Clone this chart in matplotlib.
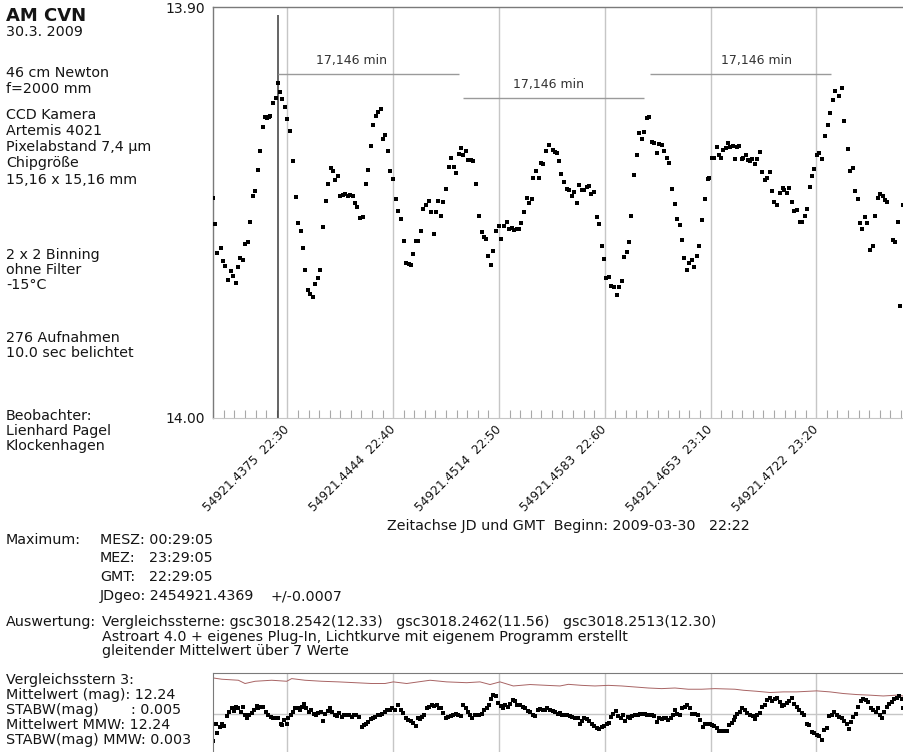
import matplotlib
matplotlib.use("Agg")
import matplotlib.pyplot as plt
from matplotlib.ticker import MultipleLocator

plt.rcParams['font.family'] = ['DejaVu Sans']

# ---------------- data ----------------
# time axis: minutes after 22:00 GMT (2009-03-30)
T_MAIN = [23.01, 23.17, 23.39, 23.70, 23.89, 24.14, 24.40, 24.65, 24.87, 25.12,
          25.31, 25.53, 25.78, 26.03, 26.25, 26.51, 26.76, 26.98, 27.26, 27.45,
          27.67, 27.89, 28.11, 28.27, 28.40, 28.62, 28.90, 29.09, 29.34, 29.53,
          29.78, 30.00, 30.26, 30.51, 30.79, 31.01, 31.26, 31.52, 31.71, 31.93,
          32.18, 32.43, 32.65, 32.90, 33.12, 33.38, 33.63, 33.88, 34.10, 34.32,
          34.51, 34.76, 34.98, 35.23, 35.45, 35.71, 35.93, 36.18, 36.40, 36.62,
          36.87, 37.12, 37.41, 37.63, 37.88, 38.13, 38.35, 38.57, 38.83, 39.01,
          39.27, 39.52, 39.74, 39.99, 40.24, 40.46, 40.72, 41.00, 41.25, 41.50,
          41.69, 41.91, 42.13, 42.39, 42.64, 42.86, 43.11, 43.36, 43.61, 43.84,
          44.06, 44.24, 44.50, 44.75, 45.00, 45.25, 45.50, 45.76, 45.98, 46.20,
          46.39, 46.64, 46.86, 47.11, 47.33, 47.58, 47.84, 48.09, 48.37, 48.56,
          48.78, 49.00, 49.25, 49.47, 49.73, 49.98, 50.23, 50.48, 50.73, 50.99,
          51.24, 51.46, 51.68, 51.90, 52.12, 52.37, 52.63, 52.88, 53.13, 53.26,
          53.51, 53.76, 53.98, 54.20, 54.45, 54.70,
          55.08, 55.30, 55.52, 55.68, 55.87, 56.12, 56.41, 56.63, 56.88, 57.10,
          57.35, 57.60, 57.82, 58.04, 58.30, 58.52, 58.74, 58.99, 59.24, 59.46,
          59.71, 59.90, 60.12, 60.38, 60.63, 60.88, 61.13, 61.35, 61.60, 61.82,
          62.08, 62.30, 62.52, 62.77, 63.02, 63.24, 63.49, 63.75, 63.97, 64.22,
          64.44, 64.69, 64.94, 65.13, 65.38, 65.64, 65.86, 66.11, 66.36, 66.61,
          66.83, 67.09, 67.34, 67.53, 67.75, 68.00, 68.22, 68.47, 68.72, 68.94,
          69.20, 69.45, 69.73, 69.89, 70.11, 70.33, 70.58, 70.80, 71.02, 71.21,
          71.46, 71.62, 71.87, 72.10, 72.32, 72.54, 72.69, 72.98, 73.10, 73.32,
          73.54, 73.77, 73.95, 74.17, 74.36, 74.65, 74.87, 75.12, 75.34, 75.62,
          75.81, 76.03, 76.29, 76.57, 76.82, 76.98, 77.23, 77.45, 77.70, 77.92,
          78.18, 78.43, 78.68, 78.93, 79.15, 79.37, 79.59, 79.81, 80.07, 80.29,
          80.57, 80.82, 81.07, 81.33, 81.55, 81.80, 82.11, 82.40, 82.62, 82.96,
          83.19, 83.44, 83.69, 83.91, 84.13, 84.35, 84.60, 84.82, 85.08, 85.33,
          85.58, 85.80, 86.05, 86.27, 86.49, 86.71, 87.25, 87.47, 87.72, 87.94,
          88.16]

MAG_MAIN = [13.9464, 13.9528, 13.9598, 13.9587, 13.9618, 13.9630, 13.9665, 13.9643, 13.9654, 13.9671,
            13.9634, 13.9610, 13.9616, 13.9577, 13.9573, 13.9524, 13.9460, 13.9447, 13.9396, 13.9350,
            13.9291, 13.9268, 13.9269, 13.9268, 13.9265, 13.9234, 13.9220, 13.9185, 13.9207, 13.9224,
            13.9244, 13.9271, 13.9301, 13.9375, 13.9462, 13.9526, 13.9544, 13.9587, 13.9639, 13.9689,
            13.9699, 13.9707, 13.9674, 13.9660, 13.9639, 13.9535, 13.9472, 13.9431, 13.9392, 13.9398,
            13.9422, 13.9410, 13.9460, 13.9458, 13.9456, 13.9460, 13.9458, 13.9459, 13.9478, 13.9487,
            13.9513, 13.9511, 13.9431, 13.9396, 13.9338, 13.9286, 13.9266, 13.9254, 13.9249, 13.9322,
            13.9310, 13.9349, 13.9400, 13.9418, 13.9466, 13.9496, 13.9516, 13.9570, 13.9622, 13.9626,
            13.9629, 13.9600, 13.9570, 13.9569, 13.9546, 13.9492, 13.9481, 13.9473, 13.9498, 13.9552,
            13.9498, 13.9472, 13.9509, 13.9474, 13.9443, 13.9390, 13.9367, 13.9390, 13.9404, 13.9357,
            13.9344, 13.9361, 13.9351, 13.9371, 13.9373, 13.9374, 13.9431, 13.9509, 13.9548, 13.9559,
            13.9565, 13.9607, 13.9629, 13.9595, 13.9546, 13.9533, 13.9564, 13.9532, 13.9524, 13.9539,
            13.9538, 13.9543, 13.9539, 13.9539, 13.9526, 13.9500, 13.9465, 13.9477, 13.9467, 13.9417,
            13.9398, 13.9417, 13.9380, 13.9383, 13.9350, 13.9336,
            13.9348, 13.9352, 13.9356, 13.9374, 13.9407, 13.9425, 13.9442, 13.9445, 13.9460, 13.9451,
            13.9478, 13.9434, 13.9444, 13.9445, 13.9439, 13.9435, 13.9455, 13.9451, 13.9510, 13.9529,
            13.9581, 13.9614, 13.9659, 13.9658, 13.9678, 13.9682, 13.9701, 13.9682, 13.9667, 13.9608,
            13.9597, 13.9573, 13.9509, 13.9408, 13.9360, 13.9307, 13.9322, 13.9305, 13.9270, 13.9268,
            13.9327, 13.9330, 13.9354, 13.9333, 13.9335, 13.9349, 13.9366, 13.9379, 13.9442, 13.9480,
            13.9516, 13.9530, 13.9566, 13.9612, 13.9640, 13.9622, 13.9616, 13.9634, 13.9606, 13.9581,
            13.9518, 13.9468, 13.9419, 13.9417, 13.9368, 13.9367, 13.9340, 13.9360, 13.9366, 13.9348,
            13.9344, 13.9330, 13.9340, 13.9337, 13.9369, 13.9341, 13.9337, 13.9370, 13.9368, 13.9360,
            13.9372, 13.9374, 13.9370, 13.9383, 13.9370, 13.9353, 13.9401, 13.9421, 13.9417, 13.9402,
            13.9448, 13.9474, 13.9482, 13.9452, 13.9440, 13.9445, 13.9453, 13.9440, 13.9475, 13.9497,
            13.9495, 13.9522, 13.9522, 13.9509, 13.9491, 13.9438, 13.9411, 13.9394, 13.9360, 13.9356,
            13.9370, 13.9313, 13.9286, 13.9258, 13.9226, 13.9205, 13.9215, 13.9197, 13.9276, 13.9346,
            13.9398, 13.9391, 13.9448, 13.9468, 13.9526, 13.9541, 13.9510, 13.9525, 13.9591, 13.9581,
            13.9509, 13.9465, 13.9455, 13.9461, 13.9470, 13.9474, 13.9567, 13.9573, 13.9523, 13.9728,
            13.9482]

# comparison star 3 (moving average panel)
T_CMP = [23.01, 23.26, 23.39, 23.61, 23.83, 24.02, 24.30, 24.49, 24.74, 24.96,
         25.15, 25.37, 25.59, 25.78, 26.00, 26.22, 26.41, 26.63, 26.88, 27.10,
         27.26, 27.48, 27.73, 27.96, 28.21, 28.43, 28.68, 28.90, 29.15, 29.37,
         29.53, 29.72, 29.94, 30.10, 30.32, 30.54, 30.73, 30.98, 31.17, 31.36,
         31.58, 31.80, 32.02, 32.24, 32.49, 32.71, 32.93, 33.15, 33.37, 33.56,
         33.82, 34.04, 34.23, 34.51, 34.70, 34.92, 35.14, 35.36, 35.61, 35.83,
         36.08, 36.31, 36.52, 36.75, 37.03, 37.25, 37.47, 37.66, 37.88, 38.07,
         38.29, 38.54, 38.76, 38.98,
         39.23, 39.45, 39.71, 39.93, 40.18, 40.49, 40.71, 40.97, 41.22, 41.44,
         41.69, 41.91, 42.13, 42.32, 42.54, 42.76, 42.95, 43.17, 43.42, 43.64,
         43.86, 44.12, 44.34, 44.53, 44.75, 44.97, 45.22, 45.44, 45.69, 45.91,
         46.13, 46.38, 46.64, 46.86, 47.05, 47.27, 47.49, 47.71, 47.96, 48.15,
         48.37, 48.62, 48.84, 49.09, 49.25, 49.47, 49.69, 49.94, 50.17, 50.35,
         50.57, 50.83, 51.05, 51.30, 51.52, 51.74, 51.99, 52.25, 52.47, 52.72,
         52.94, 53.19, 53.41, 53.66, 53.88, 54.14, 54.36, 54.58, 54.83, 55.08,
         55.30, 55.55,
         55.77, 55.99, 56.25, 56.47, 56.72, 56.94, 57.19, 57.44, 57.66, 57.88,
         58.07, 58.29, 58.55, 58.77, 58.99, 59.24, 59.46, 59.71, 59.93, 60.18,
         60.40, 60.59, 60.81, 61.07, 61.29, 61.51, 61.76, 61.92, 62.17, 62.39,
         62.61, 62.86, 63.11, 63.33, 63.55, 63.81, 64.03, 64.25, 64.50, 64.69,
         64.91, 65.13, 65.38, 65.60, 65.79, 66.01, 66.23, 66.48, 66.64, 66.86,
         67.11, 67.34, 67.59, 67.81, 68.03, 68.28, 68.53, 68.78, 69.04, 69.26,
         69.48, 69.70, 69.92, 70.14, 70.36, 70.61, 70.83, 71.05, 71.31, 71.53,
         71.75, 72.00, 72.22,
         72.31, 72.53, 72.79, 73.01, 73.26, 73.48, 73.73, 73.98, 74.20, 74.42,
         74.68, 74.90, 75.15, 75.37, 75.62, 75.84, 76.09, 76.31, 76.57, 76.79,
         76.98, 77.20, 77.45, 77.67, 77.92, 78.14, 78.39, 78.61, 78.87, 79.09,
         79.34, 79.56, 79.78, 80.03, 80.25, 80.50, 80.72, 80.98, 81.23, 81.45,
         81.70, 81.92, 82.14, 82.39, 82.61, 82.87, 83.09, 83.28, 83.50, 83.72,
         83.97, 84.19, 84.44, 84.69, 84.91, 85.14, 85.39, 85.61, 85.80, 86.02,
         86.21, 86.40, 86.65, 86.87, 87.12, 87.34, 87.59, 87.85, 88.07, 88.22]

MAG_CMP = [12.2532, 12.2450, 12.2490, 12.2462, 12.2450, 12.2457, 12.2408, 12.2389, 12.2372, 12.2385,
           12.2364, 12.2372, 12.2389, 12.2364, 12.2402, 12.2418, 12.2405, 12.2392, 12.2381, 12.2359,
           12.2372, 12.2364, 12.2364, 12.2389, 12.2402, 12.2413, 12.2418, 12.2418, 12.2421, 12.2450,
           12.2454, 12.2429, 12.2446, 12.2421, 12.2402, 12.2389, 12.2372, 12.2369, 12.2381, 12.2364,
           12.2348, 12.2372, 12.2389, 12.2381, 12.2397, 12.2402, 12.2394, 12.2389, 12.2434, 12.2397,
           12.2384, 12.2372, 12.2389, 12.2405, 12.2408, 12.2392, 12.2413, 12.2405, 12.2405, 12.2402,
           12.2413, 12.2405, 12.2402, 12.2413, 12.2462, 12.2454, 12.2446, 12.2437, 12.2424, 12.2418,
           12.2413, 12.2405, 12.2402, 12.2397,
           12.2389, 12.2381, 12.2381, 12.2369, 12.2381, 12.2353, 12.2381, 12.2392, 12.2418, 12.2429,
           12.2434, 12.2441, 12.2457, 12.2421, 12.2424, 12.2413, 12.2402, 12.2372, 12.2364, 12.2353,
           12.2359, 12.2353, 12.2369, 12.2372, 12.2394, 12.2421, 12.2413, 12.2410, 12.2402, 12.2397,
           12.2405, 12.2410, 12.2356, 12.2372, 12.2389, 12.2405, 12.2421, 12.2405, 12.2405, 12.2402,
           12.2397, 12.2381, 12.2368, 12.2353, 12.2324, 12.2307, 12.2311, 12.2343, 12.2359, 12.2369,
           12.2353, 12.2364, 12.2348, 12.2332, 12.2337, 12.2356, 12.2353, 12.2364, 12.2372, 12.2384,
           12.2389, 12.2405, 12.2410, 12.2381, 12.2376, 12.2381, 12.2381, 12.2372, 12.2381, 12.2385,
           12.2389, 12.2397,
           12.2394, 12.2402, 12.2405, 12.2402, 12.2408, 12.2413, 12.2421, 12.2418, 12.2446, 12.2434,
           12.2421, 12.2426, 12.2434, 12.2450, 12.2459, 12.2470, 12.2475, 12.2462, 12.2457, 12.2446,
           12.2441, 12.2413, 12.2397, 12.2384, 12.2410, 12.2418, 12.2405, 12.2433, 12.2413, 12.2421,
           12.2408, 12.2402, 12.2402, 12.2397, 12.2400, 12.2397, 12.2402, 12.2405, 12.2402, 12.2410,
           12.2437, 12.2418, 12.2426, 12.2421, 12.2418, 12.2429, 12.2418, 12.2405, 12.2381, 12.2397,
           12.2405, 12.2372, 12.2364, 12.2353, 12.2372, 12.2400, 12.2400, 12.2402, 12.2429, 12.2462,
           12.2450, 12.2449, 12.2446, 12.2454, 12.2457, 12.2470, 12.2481, 12.2483, 12.2483, 12.2481,
           12.2454, 12.2441, 12.2429,
           12.2413, 12.2397, 12.2389, 12.2372, 12.2381, 12.2392, 12.2402, 12.2408, 12.2424, 12.2405,
           12.2392, 12.2364, 12.2353, 12.2332, 12.2320, 12.2337, 12.2324, 12.2319, 12.2340, 12.2359,
           12.2353, 12.2343, 12.2337, 12.2320, 12.2348, 12.2364, 12.2381, 12.2392, 12.2405, 12.2450,
           12.2454, 12.2486, 12.2494, 12.2503, 12.2506, 12.2527, 12.2478, 12.2470, 12.2408, 12.2402,
           12.2389, 12.2405, 12.2413, 12.2421, 12.2434, 12.2450, 12.2473, 12.2437, 12.2413, 12.2397,
           12.2364, 12.2337, 12.2324, 12.2332, 12.2340, 12.2369, 12.2381, 12.2389, 12.2372, 12.2405,
           12.2418, 12.2389, 12.2364, 12.2348, 12.2340, 12.2327, 12.2320, 12.2311, 12.2324, 12.2372]

T_RED = [23.01, 23.80, 25.37, 26.00, 26.95, 28.52, 29.94, 30.41, 31.67, 33.25,
         34.82, 36.40, 37.97, 39.23, 40.02, 41.28, 43.49, 45.06, 46.95, 48.21,
         49.16, 50.10, 51.36, 52.94, 54.51, 55.77, 56.56, 57.82, 59.08, 60.34,
         61.60, 62.86, 64.12, 65.38, 66.64, 67.90, 69.16, 70.42, 72.31, 73.10,
         74.36, 75.62, 76.88, 78.14, 80.03, 81.29, 82.55, 83.81, 85.07, 86.33,
         87.59, 88.22]
MAG_RED = [12.2223, 12.2229, 12.2234, 12.2250, 12.2239, 12.2234, 12.2239, 12.2226, 12.2234, 12.2239,
           12.2242, 12.2246, 12.2250, 12.2250, 12.2242, 12.2250, 12.2234, 12.2242, 12.2246, 12.2242,
           12.2255, 12.2242, 12.2262, 12.2255, 12.2259, 12.2262, 12.2254, 12.2259, 12.2262, 12.2259,
           12.2262, 12.2267, 12.2272, 12.2275, 12.2272, 12.2278, 12.2278, 12.2275, 12.2278, 12.2283,
           12.2288, 12.2294, 12.2291, 12.2291, 12.2286, 12.2291, 12.2299, 12.2304, 12.2307, 12.2311,
           12.2307, 12.2311]

MAJOR_MIN = [30, 40, 50, 60, 70, 80]
JD_LABELS = ["54921.4375  22:30", "54921.4444  22:40", "54921.4514  22:50",
             "54921.4583  22:60", "54921.4653  23:10", "54921.4722  23:20"]
T_MAX = 29 + 5 / 60.0          # 22:29:05 GMT
PERIOD = 17.146                 # minutes
PERIOD_START = [T_MAX, 46.58, 64.28]
PERIOD_LEVEL = [13.9163, 13.9222, 13.9163]
PERIOD_TXT_DX = [-17, -5, 16]   # label offsets (px)
Y_TICKS = [13.90, 14.00]

# ---------------- figure ----------------
W, H = 904, 752
fig = plt.figure(figsize=(W / 100, H / 100), dpi=100)
fig.patch.set_facecolor('white')

TXT = '#151515'
FS = 10.3


def ptext(x, y, s, size=FS, weight='normal', color=TXT):
    fig.text(x / W, 1 - y / H, s, fontsize=size, fontweight=weight,
             color=color, ha='left', va='baseline')


L, R = 213.3, 904.0
ax = fig.add_axes([L / W, 1 - 417.7 / H, (R - L) / W, (417.7 - 7.3) / H])
ax.set_xlim(23.0, 88.29)
ax.set_ylim(14.00, 13.90)
ax.set_xticks(MAJOR_MIN)
ax.set_xticklabels(JD_LABELS, rotation=45, ha='right', va='center',
                   rotation_mode='anchor', fontsize=8.7, color=TXT)
ax.xaxis.set_minor_locator(MultipleLocator(1))
ax.tick_params(axis='x', which='major', length=0, pad=7)
ax.tick_params(axis='x', which='minor', direction='in', length=6,
               width=0.8, color='#a8a8a8')
ax.set_yticks(Y_TICKS)
ax.set_yticklabels([f"{v:.2f}" for v in Y_TICKS], fontsize=10, color=TXT)
ax.tick_params(axis='y', length=0, pad=6)
ax.grid(axis='x', which='major', color='#c6c6c6', lw=1.0)
ax.set_axisbelow(True)
for s in ('left', 'top'):
    ax.spines[s].set_color('#7a7a7a')
    ax.spines[s].set_linewidth(1.0)
ax.spines['bottom'].set_color('#c6c6c6')
ax.spines['right'].set_visible(False)

ax.plot(T_MAIN, MAG_MAIN, 's', ms=2.3, mew=0, color='black', zorder=3)
ax.vlines(T_MAX, 14.00, 13.9019, color='#3a3a3a', lw=1.1, zorder=2)

for t0, lev, dx in zip(PERIOD_START, PERIOD_LEVEL, PERIOD_TXT_DX):
    ax.hlines(lev, t0, t0 + PERIOD, color='#9a9a9a', lw=1.0)
    ax.annotate(f"{PERIOD:.3f} min".replace('.', ','),
                xy=(t0 + PERIOD / 2, lev), xytext=(dx * 0.72, 5),
                textcoords='offset points', ha='center', va='bottom',
                fontsize=9, color='#333333')

# comparison star panel
ax2 = fig.add_axes([L / W, 1 - 755 / H, (R - L) / W, (755 - 673.3) / H])
ax2.set_xlim(23.0, 88.29)
ax2.set_ylim(12.26, 12.22)
ax2.set_xticks(MAJOR_MIN)
ax2.set_yticks([12.24])
ax2.tick_params(length=0, labelbottom=False, labelleft=False)
ax2.grid(True, color='#c6c6c6', lw=1.0)
ax2.set_axisbelow(True)
for s in ('left', 'top'):
    ax2.spines[s].set_color('#7a7a7a')
for s in ('right', 'bottom'):
    ax2.spines[s].set_visible(False)
ax2.plot(T_RED, MAG_RED, color='#a86464', lw=0.7)
ax2.plot(T_CMP, MAG_CMP, 's', ms=2.2, mew=0, color='black')

# ---------------- texts ----------------
ptext(6, 21, "AM CVN", size=13, weight='bold')
ptext(6, 36, "30.3. 2009")
left_block = [
    (77.3, "46 cm Newton"), (92.7, "f=2000 mm"),
    (119.3, "CCD Kamera"), (135, "Artemis 4021"),
    (150.7, "Pixelabstand 7,4 µm"), (166.7, "Chipgröße"),
    (183.5, "15,16 x 15,16 mm"),
    (259.3, "2 x 2 Binning"), (274, "ohne Filter"), (289.3, "-15°C"),
    (341.7, "276 Aufnahmen"), (356.7, "10.0 sec belichtet"),
    (420, "Beobachter:"), (435, "Lienhard Pagel"), (450, "Klockenhagen"),
]
for y, s in left_block:
    ptext(6, y, s)

ptext(387, 530, "Zeitachse JD und GMT  Beginn: 2009-03-30   22:22")

ptext(6, 544, "Maximum:")
ptext(100, 544, "MESZ: 00:29:05")
ptext(100, 562.3, "MEZ:")
ptext(149, 562.3, "23:29:05")
ptext(100, 580.7, "GMT:")
ptext(149, 580.7, "22:29:05")
ptext(100, 600, "JDgeo: 2454921.4369")
ptext(270, 600, "+/-0.0007")

ptext(6, 626, "Auswertung:")
ptext(102, 626, "Vergleichssterne: gsc3018.2542(12.33)   gsc3018.2462(11.56)   gsc3018.2513(12.30)")
ptext(102, 640.7, "Astroart 4.0 + eigenes Plug-In, Lichtkurve mit eigenem Programm erstellt")
ptext(102, 655, "gleitender Mittelwert über 7 Werte")

ptext(6, 684, "Vergleichsstern 3:")
ptext(6, 699.3, "Mittelwert (mag): 12.24")
ptext(6, 714, "STABW(mag)")
ptext(131, 714, ": 0.005")
ptext(6, 729, "Mittelwert MMW: 12.24")
ptext(6, 744, "STABW(mag) MMW: 0.003")

fig.savefig("out.png", dpi=100, facecolor='white')
